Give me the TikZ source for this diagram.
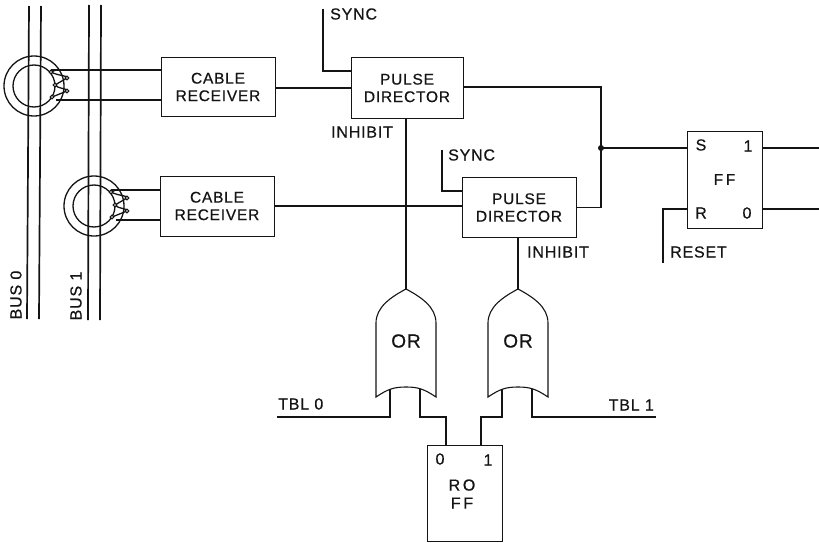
\documentclass[tikz,border=0pt]{standalone}
\usepackage{fontspec}
\setmainfont[LetterSpace=5,RawFeature={embolden=0.6}]{Liberation Sans}
\usepackage{tikz}
\usetikzlibrary{calc,positioning}
\definecolor{inkc}{HTML}{141414}
\tikzset{
  wr/.style={line width=1.7pt,inkc},
  box/.style={draw=inkc,line width=1pt,align=center,inner sep=0pt,font=\fontsize{15.5}{17.5}\selectfont,text=inkc},
  lb/.style={font=\fontsize{16}{18}\selectfont,text=inkc,inner sep=0pt,align=center},
  core/.style={draw=inkc,line width=1.3pt},
  loopc/.style={draw=inkc,line width=1.1pt,fill=white}
}
\begin{document}
\begin{tikzpicture}[x=1pt,y=-1pt]
\useasboundingbox (0,0) rectangle (819,543);
% buses
\draw[wr] (29,6)--(27,319) (41,6)--(39,319);
\draw[wr] (89,5)--(88,320) (101,5)--(100,320);
\node[lb,rotate=90] (bus0) at (16,295) {BUS 0};
\node[lb,rotate=90] (bus1) at (76,296) {BUS 1};
% boxes
\node[box,minimum width=114pt,minimum height=59pt] (cr0) at (218,87) {CABLE\\RECEIVER};
\node[box,minimum width=114pt,minimum height=60pt] (cr1) at (217,206) {CABLE\\RECEIVER};
\node[box,minimum width=112pt,minimum height=60pt] (pd0) at (407,88) {PULSE\\DIRECTOR};
\node[box,minimum width=114pt,minimum height=60pt] (pd1) at (519,207.5) {PULSE\\DIRECTOR};
\node[box,minimum width=75pt,minimum height=97pt] (ff) at (724.5,179.5) {F\,F};
\node[box,minimum width=75pt,minimum height=96pt] (ro) at (464.5,493) {};
\node[lb] (rol) at (462,494) {R\,O\\F\,F};
% or gates
\foreach \xo/\nm in {406/or0,518/or1}{
  \draw[core,line width=1.1pt] (\xo-30,397)--(\xo-30,323) .. controls (\xo-30,307) and (\xo-15,297) .. (\xo,289)
    .. controls (\xo+15,297) and (\xo+30,307) .. (\xo+30,323)--(\xo+30,397)
    .. controls (\xo+18,389) and (\xo+12,387) .. (\xo,387) .. controls (\xo-12,387) and (\xo-18,389) .. (\xo-30,397)--cycle;
  \node[lb,font=\fontsize{19}{21}\selectfont] (\nm) at (\xo,341) {OR};
  \coordinate (\nm top) at (\xo,289);
  \coordinate (\nm a) at (\xo-16,389);
  \coordinate (\nm b) at (\xo+14,389);
}
% pulse cores
\foreach \cx/\cy/\nm in {34/86/c0,94/206/c1}{
  \draw[core] (\cx,\cy) circle (30);
  \draw[core] (\cx,\cy) circle (21);
  \coordinate (\nm u) at (\cx+17,\cy-16);
  \coordinate (\nm d) at (\cx+22,\cy+14);
  \draw[core] (\cx+17,\cy-14)--(\cx+22,\cy-16)
    (\cx+17,\cy-14) .. controls (\cx+24,\cy-10) and (\cx+33,\cy-11) .. (\cx+33,\cy-8)
    --(\cx+21,\cy-1)
    .. controls (\cx+24,\cy+3) and (\cx+33,\cy+2) .. (\cx+33,\cy+5)
    --(\cx+18,\cy+11);
  \foreach \px/\py in {17/-14,33/-8,21/-1,33/5,18/11}
    \draw[loopc] (\cx+\px,\cy+\py) circle (1.8);
}
% wiring
\draw[wr] (c0u)--(cr0.west|-c0u) (c0d)--(cr0.west|-c0d);
\draw[wr] (c1u)--(cr1.west|-c1u) (c1d)--(cr1.west|-c1d);
\coordinate (sy0) at (323,9);
\coordinate (sy1) at (442,150);
\coordinate (rs) at (663,263);
\coordinate (jn) at (601,148);
\coordinate (q1) at (819,148);
\coordinate (q0) at (819,209);
\coordinate (tb0) at (277,417);
\coordinate (tb1) at (656,417);
\draw[wr] (cr0.east|-pd0.west)--(pd0.west);
\draw[wr] (cr1.east)--(cr1.east-|pd1.west);
\draw[wr] (sy0)--(323,71)--(351,71);
\draw[wr] (sy1)--(442,191)--(462,191);
\draw[wr] (pd0.east|-0,87)-|(jn);
\draw[wr] (pd1.east)-|(jn);
\fill[inkc] (jn) circle (3);
\draw[wr] (jn)--(jn-|ff.west);
\draw[wr] (rs)|-(ff.west|-q0);
\draw[wr] (ff.east|-q1)--(q1);
\draw[wr] (ff.east|-q0)--(q0);
\draw[wr] (or0top|-pd0.south)--(or0top);
\draw[wr] (or1top|-pd1.south)--(or1top);
\draw[wr] (or0a)|-(tb0);
\draw[wr] (or1b)|-(tb1);
\draw[wr] (or0b)|-(446,417)--(446,445);
\draw[wr] (or1a)|-(481,417)--(481,445);
% labels
\node[lb,anchor=west] (sl0) at (330,14) {SYNC};
\node[lb,anchor=west] (sl1) at (448,155) {SYNC};
\node[lb,anchor=west] (il0) at (331,132) {INHIBIT};
\node[lb,anchor=west] (il1) at (527,252) {INHIBIT};
\node[lb,anchor=west] (rl) at (670,252) {RESET};
\node[lb,anchor=west] (t0) at (278,404) {TBL 0};
\node[lb,anchor=east] (t1) at (654,405) {TBL 1};
\node[lb] (ps) at (701,145) {S};
\node[lb] (pq) at (748,146) {1};
\node[lb] (pr) at (701,213) {R};
\node[lb] (pn) at (747,213) {0};
\node[lb] (p0) at (440,459) {0};
\node[lb] (p1) at (488,460) {1};
\end{tikzpicture}
\end{document}
